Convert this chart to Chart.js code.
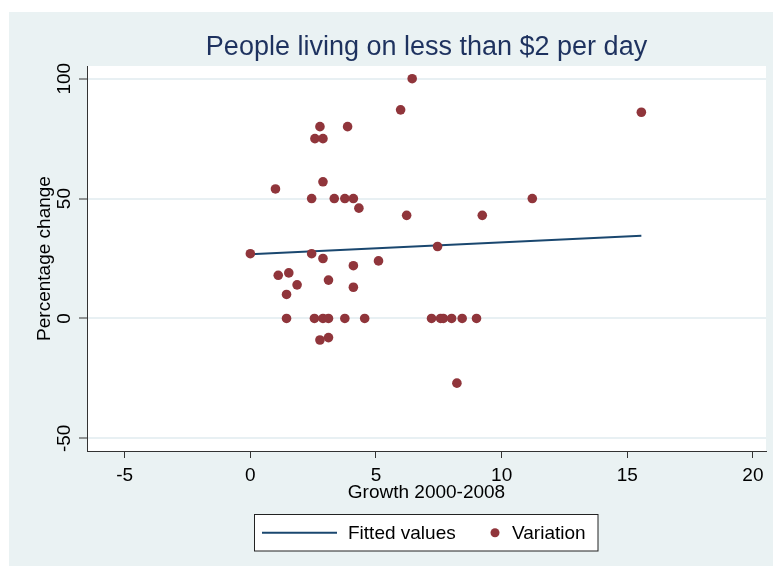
<!DOCTYPE html>
<html>
<head>
<meta charset="utf-8">
<script src="https://cdn.jsdelivr.net/npm/chart.js@4"></script>
<style>
  html, body { margin: 0; padding: 0; background: #ffffff; }
  #wrap { width: 773px; height: 569px; }
</style>
</head>
<body>
<div id="wrap"><canvas id="c" width="773" height="569"></canvas></div>
<script>
// ---- data ----
const growth = [0, 1.00, 1.11, 1.53, 1.44, 1.44, 1.86, 2.44, 2.44, 2.57, 2.55, 2.77, 2.77, 2.89, 2.89, 2.89, 2.89,
  3.11, 3.11, 3.11, 3.34, 3.76, 3.76, 3.87, 4.10, 4.10, 4.10, 4.32, 4.55, 5.10, 5.98, 6.22, 6.44,
  7.21, 7.45, 7.57, 7.68, 8.01, 8.22, 8.43, 9.00, 9.23, 11.22, 15.56];
const variation = [27, 54, 18, 19, 10, 0, 14, 50, 27, 75, 0, 80, -9, 75, 57, 25, 0,
  16, 0, -8, 50, 50, 0, 80, 50, 22, 13, 46, 0, 24, 87, 43, 100,
  0, 30, 0, 0, 0, -27, 0, 0, 43, 50, 86];
const fittedX = [0, 15.56];
const fittedY = [26.8, 34.5];
const xTicks = [-5, 0, 5, 10, 15, 20];
const yTicks = [-50, 0, 50, 100];
const titleText = 'People living on less than $2 per day';
const xTitle = 'Growth 2000-2008';
const yTitle = 'Percentage change';
const legendLabels = ['Fitted values', 'Variation'];

// ---- styles ----
const FONT = '"Liberation Sans", Arial, sans-serif';
const MAROON = 'rgb(144,53,59)';
const NAVY = 'rgb(26,71,111)';
const TITLE_COLOR = 'rgb(30,50,95)';
const PANEL = 'rgb(234,242,243)';

const scatterData = growth.map((g, i) => ({ x: g, y: variation[i] }));
const fittedData = fittedX.map((g, i) => ({ x: g, y: fittedY[i] }));

const backgroundPlugin = {
  id: 'bg',
  beforeDraw(chart) {
    const { ctx, chartArea: a } = chart;
    ctx.save();
    ctx.fillStyle = '#ffffff';
    ctx.fillRect(0, 0, chart.width, chart.height);
    ctx.fillStyle = PANEL;
    ctx.fillRect(9, 12, chart.width - 9, 554);
    ctx.fillStyle = '#ffffff';
    ctx.fillRect(a.left, a.top, a.right - a.left, a.bottom - a.top);
    ctx.restore();
  }
};

const yLabelPlugin = {
  id: 'ylabels',
  afterDraw(chart) {
    const { ctx } = chart;
    const ys = chart.scales.y;
    ctx.save();
    ctx.font = '19px ' + FONT;
    ctx.fillStyle = '#000';
    ctx.textAlign = 'center';
    ctx.textBaseline = 'middle';
    ys.ticks.forEach(t => {
      const py = ys.getPixelForValue(t.value);
      ctx.save();
      ctx.translate(ys.left + 55, py);
      ctx.rotate(-Math.PI / 2);
      ctx.fillText(String(t.value), 0, 0);
      ctx.restore();
    });
    ctx.restore();
  }
};

const legendPlugin = {
  id: 'customLegend',
  afterDraw(chart) {
    const { ctx } = chart;
    const bx = 254.5, by = 514.5, bw = 343.5, bh = 36.5;
    const cy = by + bh / 2;
    ctx.save();
    ctx.fillStyle = '#ffffff';
    ctx.fillRect(bx, by, bw, bh);
    ctx.strokeStyle = '#222';
    ctx.lineWidth = 1;
    ctx.strokeRect(bx, by, bw, bh);
    // line sample
    ctx.strokeStyle = NAVY;
    ctx.lineWidth = 2;
    ctx.beginPath();
    ctx.moveTo(262, cy);
    ctx.lineTo(337, cy);
    ctx.stroke();
    // dot sample
    ctx.fillStyle = MAROON;
    ctx.beginPath();
    ctx.arc(495, cy, 4.5, 0, Math.PI * 2);
    ctx.fill();
    ctx.fillStyle = '#000';
    ctx.font = '19px ' + FONT;
    ctx.textAlign = 'left';
    ctx.textBaseline = 'middle';
    ctx.fillText(legendLabels[0], 348, cy + 1);
    ctx.fillText(legendLabels[1], 512, cy + 1);
    ctx.restore();
  }
};

new Chart(document.getElementById('c'), {
  data: {
    datasets: [
      {
        type: 'line',
        label: legendLabels[0],
        data: fittedData,
        borderColor: NAVY,
        borderWidth: 2,
        pointRadius: 0,
        fill: false,
        tension: 0,
        order: 1
      },
      {
        type: 'scatter',
        label: legendLabels[1],
        data: scatterData,
        backgroundColor: MAROON,
        borderWidth: 0,
        pointRadius: 4.8,
        pointHoverRadius: 4.8,
        order: 0
      }
    ]
  },
  options: {
    responsive: false,
    animation: false,
    devicePixelRatio: 1,
    layout: { padding: { top: 12, left: 10, right: 7, bottom: 58 } },
    plugins: {
      legend: { display: false },
      tooltip: { enabled: false },
      title: {
        display: true,
        text: titleText,
        fullSize: false,
        color: TITLE_COLOR,
        font: { family: FONT, size: 27, weight: 'normal', lineHeight: 1.2 },
        padding: { top: 19, bottom: 2.6 }
      }
    },
    scales: {
      x: {
        type: 'linear',
        min: -6.5,
        max: 20.52,
        afterBuildTicks(scale) { scale.ticks = xTicks.map(v => ({ value: v })); },
        afterFit(scale) { scale.height = 60; },
        grid: {
          display: true,
          drawOnChartArea: false,
          drawTicks: true,
          tickLength: 7,
          tickColor: '#333',
          tickWidth: 1
        },
        border: { display: true, color: '#333', width: 1 },
        ticks: {
          color: '#000',
          font: { family: FONT, size: 19 },
          padding: 6,
          maxRotation: 0,
          autoSkip: false
        },
        title: {
          display: true,
          text: xTitle,
          color: '#000',
          font: { family: FONT, size: 19, lineHeight: 1.2 },
          padding: { top: 0, bottom: 6.6 }
        }
      },
      y: {
        type: 'linear',
        min: -55.3,
        max: 105.3,
        afterBuildTicks(scale) { scale.ticks = yTicks.map(v => ({ value: v })); },
        afterFit(scale) { scale.width = 77; },
        grid: {
          display: true,
          drawOnChartArea: true,
          color: 'rgb(232,240,243)',
          lineWidth: 2,
          drawTicks: true,
          tickLength: 8,
          tickColor: '#333',
          tickWidth: 1
        },
        border: { display: true, color: '#333', width: 1 },
        ticks: { display: false },
        title: {
          display: true,
          text: yTitle,
          color: '#000',
          font: { family: FONT, size: 19, lineHeight: 1.2 },
          padding: { top: 23.6, bottom: 0 }
        }
      }
    }
  },
  plugins: [backgroundPlugin, yLabelPlugin, legendPlugin]
});
</script>
</body>
</html>
